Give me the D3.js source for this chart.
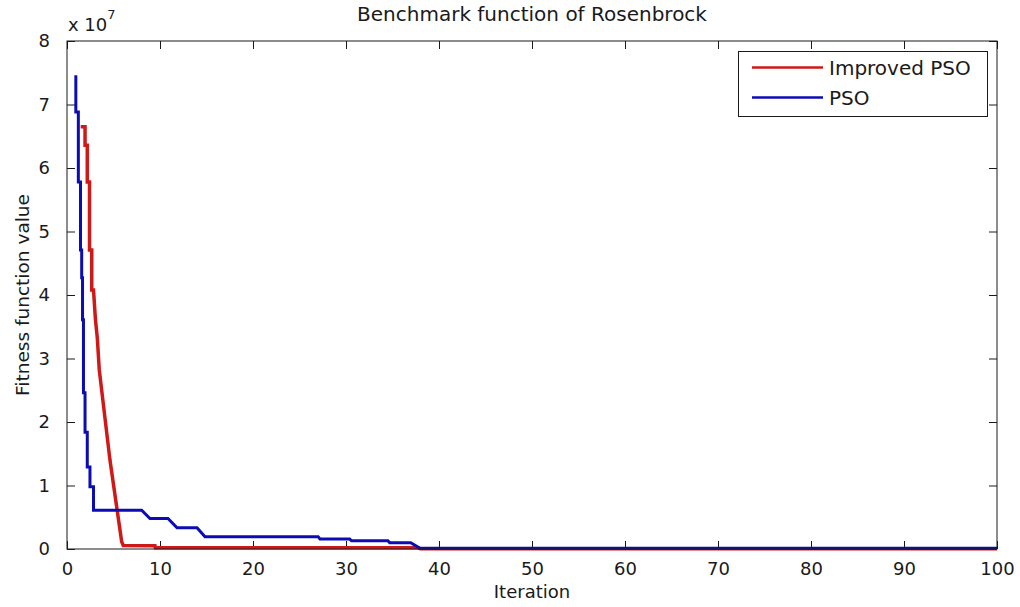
<!DOCTYPE html>
<html>
<head>
<meta charset="utf-8">
<script src="https://cdn.jsdelivr.net/npm/d3@7"></script>
<style>
  html, body { margin: 0; padding: 0; background: #fff; }
  svg { display: block; }
  text { font-family: "DejaVu Sans", sans-serif; fill: #1a1a1a; }
</style>
</head>
<body>
<svg id="chart" width="1020" height="607"></svg>
<script>
// Best fitness per iteration (values in raw units, axis shown as x 10^7)
const psoIter = [0.95, 0.95, 1.22, 1.22, 1.45, 1.45, 1.58, 1.58, 1.67, 1.67, 1.77, 1.77, 1.94, 1.94, 2.18, 2.18, 2.47, 2.47, 2.85, 2.85, 8.03, 8.92, 10.86, 11.83, 13.98, 14.84, 27.0, 27.2, 30.4, 30.6, 34.5, 34.7, 36.96, 37.96, 100];
const psoValue = [7.46e7, 6.88e7, 6.88e7, 5.78e7, 5.78e7, 4.71e7, 4.71e7, 4.27e7, 4.27e7, 3.61e7, 3.61e7, 2.46e7, 2.46e7, 1.84e7, 1.84e7, 1.29e7, 1.29e7, 0.98e7, 0.98e7, 0.61e7, 0.61e7, 0.48e7, 0.48e7, 0.335e7, 0.335e7, 0.194e7, 0.194e7, 0.157e7, 0.157e7, 0.13e7, 0.13e7, 0.10e7, 0.10e7, 0.01e7, 0.01e7];

const impIter = [1.47, 1.94, 1.94, 2.18, 2.18, 2.42, 2.42, 2.66, 2.66, 2.85, 3.06, 3.26, 3.47, 4.62, 5.88, 6.05, 9.46, 9.5, 37.7, 38.0, 100];
const impValue = [6.65e7, 6.65e7, 6.36e7, 6.36e7, 5.78e7, 5.78e7, 4.71e7, 4.71e7, 4.08e7, 4.08e7, 3.61e7, 3.32e7, 2.82e7, 1.40e7, 0.115e7, 0.055e7, 0.05e7, 0.02e7, 0.02e7, 0.005e7, 0.005e7];

const xTicks = [0, 10, 20, 30, 40, 50, 60, 70, 80, 90, 100];
const yTicks = [0, 1e7, 2e7, 3e7, 4e7, 5e7, 6e7, 7e7, 8e7];

const seriesNames = ["Improved PSO", "PSO"];
const seriesColors = ["#d01818", "#0c0cb4"];

const svg = d3.select("#chart");
const margin = { left: 67, right: 23, top: 41, bottom: 58 };
const W = 1020, H = 607;
const x = d3.scaleLinear().domain([0, 100]).range([margin.left, W - margin.right]);
const y = d3.scaleLinear().domain([0, 8e7]).range([H - margin.bottom, margin.top]);

const x0 = x.range()[0], x1 = x.range()[1];
const y0 = y.range()[0], y1 = y.range()[1];
const tickLen = 8;

// axes with inward ticks on all four sides
const axisColor = "#1a1a1a";
function styleAxis(g) {
  g.select(".domain").remove();
  g.selectAll(".tick line").attr("stroke", axisColor).attr("stroke-width", 1);
}

svg.append("g")
  .attr("transform", `translate(0,${y0})`)
  .call(d3.axisBottom(x).tickValues(xTicks).tickSize(-tickLen).tickPadding(13).tickFormat(d3.format("d")))
  .call(styleAxis)
  .call(g => g.selectAll("text").attr("font-size", 18).attr("fill", "#1a1a1a").attr("font-family", "DejaVu Sans"));

svg.append("g")
  .attr("transform", `translate(0,${y1})`)
  .call(d3.axisTop(x).tickValues(xTicks).tickSize(-tickLen).tickFormat(""))
  .call(styleAxis);

svg.append("g")
  .attr("transform", `translate(${x0},0)`)
  .call(d3.axisLeft(y).tickValues(yTicks).tickSize(-tickLen).tickPadding(17).tickFormat(d => d / 1e7))
  .call(styleAxis)
  .call(g => g.selectAll("text").attr("font-size", 18).attr("fill", "#1a1a1a").attr("font-family", "DejaVu Sans"));

svg.append("g")
  .attr("transform", `translate(${x1},0)`)
  .call(d3.axisRight(y).tickValues(yTicks).tickSize(-tickLen).tickFormat(""))
  .call(styleAxis);

// series lines
const line = d3.line().x(d => x(d[0])).y(d => y(d[1]));
const impData = impIter.map((v, i) => [v, impValue[i]]);
const psoData = psoIter.map((v, i) => [v, psoValue[i]]);

svg.append("path").datum(impData)
  .attr("d", line).attr("fill", "none")
  .attr("stroke", seriesColors[0]).attr("stroke-width", 3.5)
  .attr("stroke-linejoin", "miter");

svg.append("path").datum(psoData)
  .attr("d", line).attr("fill", "none")
  .attr("stroke", seriesColors[1]).attr("stroke-width", 3)
  .attr("stroke-linejoin", "miter");

// plot box
svg.append("rect")
  .attr("x", x0).attr("y", y1)
  .attr("width", x1 - x0).attr("height", y0 - y1)
  .attr("fill", "none").attr("stroke", axisColor).attr("stroke-width", 1);

// exponent label
const expo = svg.append("text").attr("x", 68).attr("y", 31).attr("font-size", 18);
expo.append("tspan").text("x 10");
expo.append("tspan").attr("dy", -12).attr("font-size", 13).text("7");

// title and axis labels
svg.append("text").attr("x", (x0 + x1) / 2).attr("y", 21)
  .attr("text-anchor", "middle").attr("font-size", 20)
  .text("Benchmark function of Rosenbrock");

svg.append("text").attr("x", (x0 + x1) / 2).attr("y", 598)
  .attr("text-anchor", "middle").attr("font-size", 18)
  .text("Iteration");

svg.append("text")
  .attr("transform", `translate(29,${(y0 + y1) / 2}) rotate(-90)`)
  .attr("text-anchor", "middle").attr("font-size", 18.5)
  .text("Fitness function value");

// legend
const leg = svg.append("g");
leg.append("rect").attr("x", 738.5).attr("y", 51.5).attr("width", 249).attr("height", 65)
  .attr("fill", "#fff").attr("stroke", axisColor).attr("stroke-width", 1);
seriesNames.forEach((name, i) => {
  const ly = 67.5 + i * 30;
  leg.append("line").attr("x1", 752).attr("x2", 823).attr("y1", ly).attr("y2", ly)
    .attr("stroke", seriesColors[i]).attr("stroke-width", 2.5);
  leg.append("text").attr("x", 829).attr("y", ly + 7).attr("font-size", 20).text(name);
});
</script>
</body>
</html>
